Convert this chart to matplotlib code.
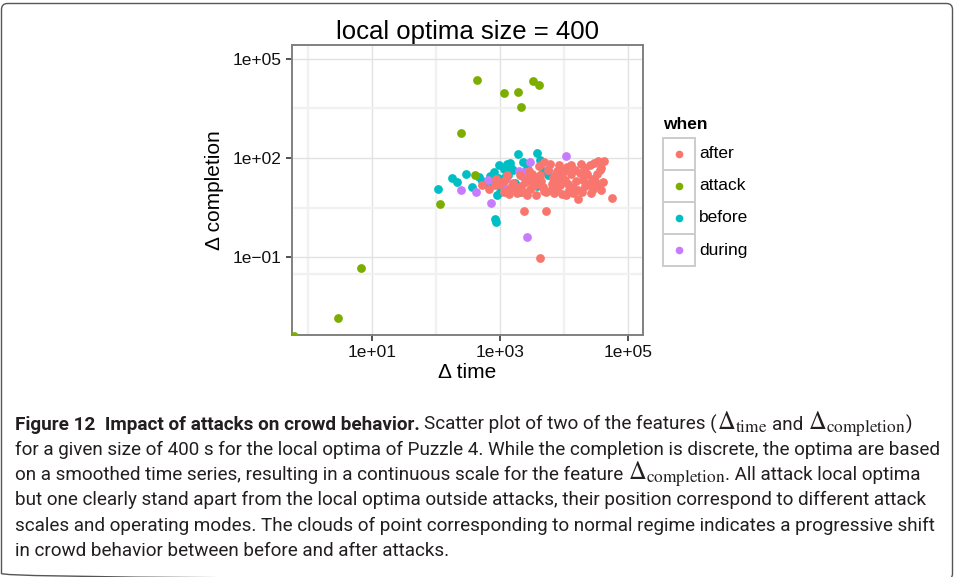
import matplotlib
matplotlib.use("Agg")
import matplotlib.pyplot as plt
from matplotlib.patches import Rectangle, FancyBboxPatch
from matplotlib.lines import Line2D
from matplotlib.transforms import Affine2D

# data (Δ time, Δ completion) per group
groups = ["after", "attack", "before", "during"]
group_colors = {"after": "#F8766D", "attack": "#7CAE00", "before": "#00BFC4", "during": "#C77CFF"}

after_time = [525, 692, 891, 1000, 1150, 1380, 1480, 1860, 2090, 2190, 2510, 2950, 3160, 3720, 3980,
              4270, 4900, 6030, 5370, 6460, 7760, 7940, 9330, 9550, 11200, 11700, 13200, 13800, 15800,
              17000, 18600, 19100, 21400, 22900, 25700, 27500, 28800, 30900, 34700, 37200, 38900, 40700,
              56200, 2400, 5250, 4270, 1260, 1410, 2630, 3550, 4470, 6760, 8710, 10500, 14100, 20400,
              24500, 33100, 1150, 1620, 1860, 2340, 3310, 2880, 5620, 7240, 10000, 12300, 17800, 21900,
              30200, 42700, 26900, 15100, 8510, 6310, 4790, 2750, 3800, 7080, 33900, 38000, 832, 1320,
              5010, 11000, 16600, 8320, 13200, 4170]
after_completion = [15.5, 11.7, 23.4, 16.6, 9.3, 11.0, 13.2, 10.5, 30.2, 14.8, 18.6, 11.7, 33.9, 7.4, 16.6,
                    31.6, 75.9, 67.6, 9.3, 16.6, 40.7, 11.7, 26.3, 8.3, 53.7, 16.6, 33.9, 8.7, 20.9,
                    5.9, 67.6, 9.3, 14.8, 33.9, 60.3, 23.4, 11.7, 20.0, 79.4, 42.7, 51.3, 18.6,
                    6.2, 2.5, 2.5, 0.095, 9.8, 8.3, 7.4, 22.4, 20.0, 25.1, 15.8, 22.4, 12.6, 22.4,
                    16.6, 33.9, 20.0, 17.8, 8.5, 9.5, 14.8, 39.8, 44.7, 31.6, 39.8, 10.5, 35.5, 50.1,
                    70.8, 79.4, 8.9, 44.7, 63.1, 11.2, 13.2, 24.0, 26.3, 8.5, 15.8, 11.2, 15.1, 31.6,
                    10.0, 7.6, 11.2, 20.0, 63.1, 56.2]

attack_time = [447, 1175, 1950, 3310, 4070, 2140, 251, 407, 115, 6.9, 3.0, 0.6]
attack_completion = [23400, 9550, 10000, 21900, 15800, 3630, 589, 31, 4.1, 0.047, 0.0015, 0.00043]

before_time = [110, 182, 214, 302, 363, 468, 525, 631, 813, 851, 871, 912, 1000, 977, 1150, 1290, 1450,
               741, 891, 1070, 1200, 1620, 1860, 1910, 2630, 3890, 4270, 3160, 3800, 5750, 2090,
               1050, 1350, 1510, 955, 1740, 2820, 4790, 7080, 708, 2290]
before_completion = [11.5, 25.1, 18.6, 32.4, 13.8, 26.3, 20.9, 16.6, 38.0, 1.45, 1.15, 7.4, 9.3, 60.3,
                     47.9, 67.6, 72.4, 16.6, 20.9, 13.2, 26.9, 42.7, 14.8, 132, 51.3, 138, 89.1, 20.9,
                     14.8, 30.2, 9.3, 11.2, 31.6, 50.1, 25.1, 17.8, 28.2, 39.8, 20.0, 28.2, 75.9]

during_time = [11000, 2950, 251, 427, 741, 2630, 661, 1260, 2040, 2510, 5750, 2240, 1120]
during_completion = [117, 78, 11, 9.5, 4.4, 0.42, 22, 23, 41, 38, 45, 28, 14]

x_ticks = [1e1, 1e3, 1e5]
x_tick_labels = ["1e+01", "1e+03", "1e+05"]
y_ticks = [1e-1, 1e2, 1e5]
y_tick_labels = ["1e\u221201", "1e+02", "1e+05"]

series = {
    "after": (after_time, after_completion),
    "attack": (attack_time, attack_completion),
    "before": (before_time, before_completion),
    "during": (during_time, during_completion),
}

W, H = 956, 577
plt.rcParams["font.family"] = ["Liberation Sans", "DejaVu Sans"]
plt.rcParams["mathtext.fontset"] = "stix"

fig = plt.figure(figsize=(W / 100, H / 100), dpi=100)
fig.patch.set_facecolor("white")
# pixel coords, origin top-left
T = Affine2D().scale(1 / W, -1 / H).translate(0, 1) + fig.transFigure

# outer caption frame
fig.add_artist(FancyBboxPatch((1.5, 3.5), 951, 576, boxstyle="round,pad=0,rounding_size=6",
                              transform=T, fc="none", ec="#555555", lw=1.0))

# scatter panel
left, right, top, bottom = 291.7, 643, 45, 335
ax = fig.add_axes([left / W, 1 - bottom / H, (right - left) / W, (bottom - top) / H])
ax.set_xscale("log")
ax.set_yscale("log")
ax.set_xlim(10 ** -0.25, 10 ** 5.24)
ax.set_ylim(10 ** -3.35, 10 ** 5.42)

for g in ["before", "during", "after", "attack"]:
    xs, ys = series[g]
    ax.scatter(xs, ys, s=40, color=group_colors[g], linewidths=0, zorder=3, clip_on=True)

ax.set_xticks(x_ticks)
ax.set_xticklabels(x_tick_labels)
ax.set_yticks(y_ticks)
ax.set_yticklabels(y_tick_labels)
ax.set_xticks([1e0, 1e2, 1e4], minor=True)
ax.set_yticks([10 ** -1.5, 10 ** 0.5, 10 ** 3.5], minor=True)
ax.xaxis.set_minor_formatter(plt.NullFormatter())
ax.yaxis.set_minor_formatter(plt.NullFormatter())
ax.tick_params(which="major", length=4.5, width=1.2, color="#333333", labelsize=12.5,
               labelcolor="#111111", pad=3)
ax.tick_params(which="minor", length=0)
ax.grid(which="major", color="#e2e2e2", lw=1.0, zorder=0)
ax.grid(which="minor", color="#f1f1f1", lw=1.7, zorder=0)
ax.set_axisbelow(True)
for sp in ax.spines.values():
    sp.set_color("#808080")
    sp.set_linewidth(1.4)

fig.text(467 / W, 1 - 32 / H, "local optima size = 400", fontsize=18.5, ha="center", va="center")
fig.text(467 / W, 1 - 373 / H, "\u0394 time", fontsize=15, ha="center", va="center")
fig.text(215 / W, 1 - 190 / H, "\u0394 completion", fontsize=15, ha="center", va="center", rotation=90)

# legend
fig.text(663 / W, 1 - 125 / H, "when", fontsize=12.5, fontweight="bold", ha="left", va="center")
for i, g in enumerate(groups):
    y0 = 138 + i * 32
    fig.add_artist(Rectangle((663, y0), 32, 32, transform=T, fc="white", ec="#cccccc", lw=1.4))
    fig.add_artist(Line2D([679], [y0 + 16], marker="o", ms=5.5, mew=0, color=group_colors[g],
                          transform=T, ls="none"))
    fig.text(699 / W, 1 - (y0 + 16) / H, g, fontsize=12.5, ha="left", va="center")

# caption
renderer = fig.canvas.get_renderer()
cap_font = ["Roboto", "DejaVu Sans"]
cap_color = "#231f20"
line2 = "for a given size of 400 s for the local optima of Puzzle 4. While the completion is discrete, the optima are based"
probe = fig.text(0, 0, line2, fontsize=12, family=cap_font)
cap_fs = 12 * 928 / probe.get_window_extent(renderer).width
probe.remove()
p1 = fig.text(0, 0, "a a", fontsize=cap_fs, family=cap_font)
p2 = fig.text(0, 0, "aa", fontsize=cap_fs, family=cap_font)
space_w = p1.get_window_extent(renderer).width - p2.get_window_extent(renderer).width
p1.remove()
p2.remove()

caption = [
    [("b", "Figure 12  Impact of attacks on crowd behavior."), ("gap", ""),
     ("n", "Scatter plot of two of the features ("), ("m", r"$\Delta_{\mathrm{time}}$"), ("gap", ""),
     ("n", "and"), ("gap", ""), ("m", r"$\Delta_{\mathrm{completion}}$"), ("n", ")")],
    [("n", line2)],
    [("n", "on a smoothed time series, resulting in a continuous scale for the feature"), ("gap", ""),
     ("m", r"$\Delta_{\mathrm{completion}}$"), ("n", ". All attack local optima")],
    [("n", "but one clearly stand apart from the local optima outside attacks, their position correspond to different attack")],
    [("n", "scales and operating modes. The clouds of point corresponding to normal regime indicates a progressive shift")],
    [("n", "in crowd behavior between before and after attacks.")],
]
for i, runs in enumerate(caption):
    y = 429.5 + i * 25.3
    x = 15
    for kind, s in runs:
        if kind == "gap":
            x += space_w
            continue
        fs = cap_fs * 1.3 if kind == "m" else cap_fs
        t = fig.text(x / W, 1 - y / H, s, fontsize=fs, family=cap_font, color=cap_color,
                     fontweight="bold" if kind == "b" else "normal", ha="left", va="baseline")
        x += t.get_window_extent(renderer).width

fig.savefig("out.png", dpi=100)
